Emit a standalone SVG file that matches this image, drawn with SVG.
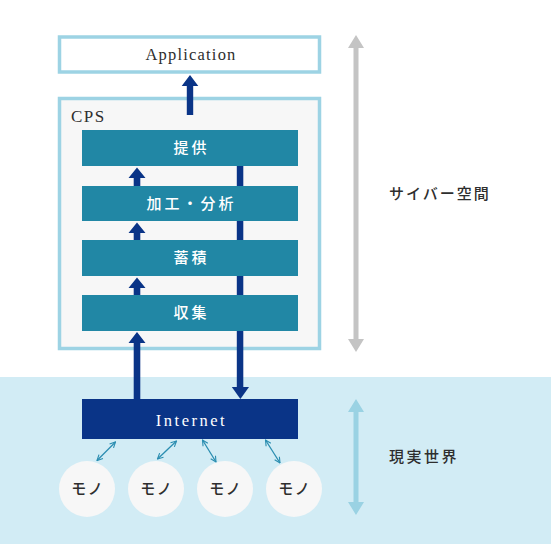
<svg xmlns="http://www.w3.org/2000/svg" width="551" height="544" viewBox="0 0 551 544">
<defs>
<style>
.serif{font-family:"Liberation Serif","Noto Sans CJK JP",serif;font-weight:500;}
.lbl{fill:#ffffff;font-size:15px;letter-spacing:3px;text-anchor:middle;dominant-baseline:central;}
.dark{fill:#2e2e2e;}
.layer{fill:#2187a5;}
.mono{fill:#f7f7f7;}
.mtxt{font-size:15px;letter-spacing:1.5px;text-anchor:middle;dominant-baseline:central;}
.small{stroke:#2a8db0;stroke-width:1.3;fill:none;marker-start:url(#ch);marker-end:url(#ch);}
</style>
<marker id="ch" viewBox="0 0 10 10" refX="9" refY="5" markerWidth="7" markerHeight="7" orient="auto-start-reverse" markerUnits="userSpaceOnUse">
<path d="M1,1 L9,5 L1,9" fill="none" stroke="#2a8db0" stroke-width="1.6"/>
</marker>
</defs>
<rect x="0" y="0" width="551" height="544" fill="#ffffff"/>
<rect x="0" y="377" width="551" height="167" fill="#d2ecf5"/>

<g id="application">
<rect x="59.5" y="37" width="260" height="35" fill="#ffffff" stroke="#9dd3e4" stroke-width="3.5"/>
<text class="serif dark" x="191" y="54.5" font-size="16.5" letter-spacing="1.2" text-anchor="middle" dominant-baseline="central">Application</text>
</g>

<g id="cps">
<rect x="59.5" y="98.5" width="260" height="250" fill="#f7f7f7" stroke="#9dd3e4" stroke-width="3.5"/>
<text class="serif dark" x="71" y="116" font-size="17" letter-spacing="1.5" dominant-baseline="central">CPS</text>
</g>

<g id="connectors">
<path d="M186.8,115 V86 H181.7 L190,75 L198.3,86 H193.2 V115 Z" fill="#0a3487"/>
<rect x="236.8" y="150" width="6.5" height="238" fill="#0a3487"/>
<path d="M231.8,387 H249 L240.4,399 Z" fill="#0a3487"/>
<path d="M133.7,186 V178 H128.5 L137,167.5 L145.5,178 H140.3 V186 Z" fill="#0a3487"/>
<path d="M133.7,241 V233 H128.5 L137,222.5 L145.5,233 H140.3 V241 Z" fill="#0a3487"/>
<path d="M133.7,296 V288 H128.5 L137,277.5 L145.5,288 H140.3 V296 Z" fill="#0a3487"/>
<path d="M133.7,400 V343 H128.5 L137,332 L145.5,343 H140.3 V400 Z" fill="#0a3487"/>
<line class="small" x1="97" y1="460.5" x2="115.5" y2="442"/>
<line class="small" x1="157.5" y1="459" x2="176.5" y2="441"/>
<line class="small" x1="202.5" y1="440" x2="216" y2="462"/>
<line class="small" x1="265.5" y1="440" x2="280" y2="463"/>
<path d="M353.5,48 V339 H348 L356,352 L364,339 H358.5 V48 H364 L356,35 L348,48 Z" fill="#c4c4c4"/>
<path d="M353.5,412 V502 H348 L356,515 L364,502 H358.5 V412 H364 L356,399 L348,412 Z" fill="#9ad2e3"/>
</g>

<g id="layer-teikyo">
<rect class="layer" x="82" y="130" width="216" height="36"/>
<text class="serif lbl" x="191.5" y="148">提供</text>
</g>
<g id="layer-kakou">
<rect class="layer" x="82" y="186" width="216" height="35"/>
<text class="serif lbl" x="191.5" y="203.5">加工・分析</text>
</g>
<g id="layer-chikuseki">
<rect class="layer" x="82" y="240" width="216" height="36"/>
<text class="serif lbl" x="191.5" y="258">蓄積</text>
</g>
<g id="layer-shushu">
<rect class="layer" x="82" y="295" width="216" height="36"/>
<text class="serif lbl" x="191.5" y="313">収集</text>
</g>

<g id="internet">
<rect x="82" y="399" width="216" height="40" fill="#0a3487"/>
<text class="serif" x="191.5" y="420" font-size="16.5" letter-spacing="2.5" fill="#ffffff" text-anchor="middle" dominant-baseline="central">Internet</text>
</g>

<g id="mono1"><circle class="mono" cx="87" cy="489" r="28"/><text class="serif dark mtxt" x="87.7" y="489">モノ</text></g>
<g id="mono2"><circle class="mono" cx="156" cy="489" r="28"/><text class="serif dark mtxt" x="156.7" y="489">モノ</text></g>
<g id="mono3"><circle class="mono" cx="225" cy="489" r="28"/><text class="serif dark mtxt" x="225.7" y="489">モノ</text></g>
<g id="mono4"><circle class="mono" cx="294" cy="489" r="28"/><text class="serif dark mtxt" x="294.7" y="489">モノ</text></g>

<g id="label-cyber">
<text class="serif dark" x="389" y="194" font-size="15" letter-spacing="2" dominant-baseline="central">サイバー空間</text>
</g>
<g id="label-real">
<text class="serif dark" x="389" y="457" font-size="15" letter-spacing="2.5" dominant-baseline="central">現実世界</text>
</g>
</svg>
